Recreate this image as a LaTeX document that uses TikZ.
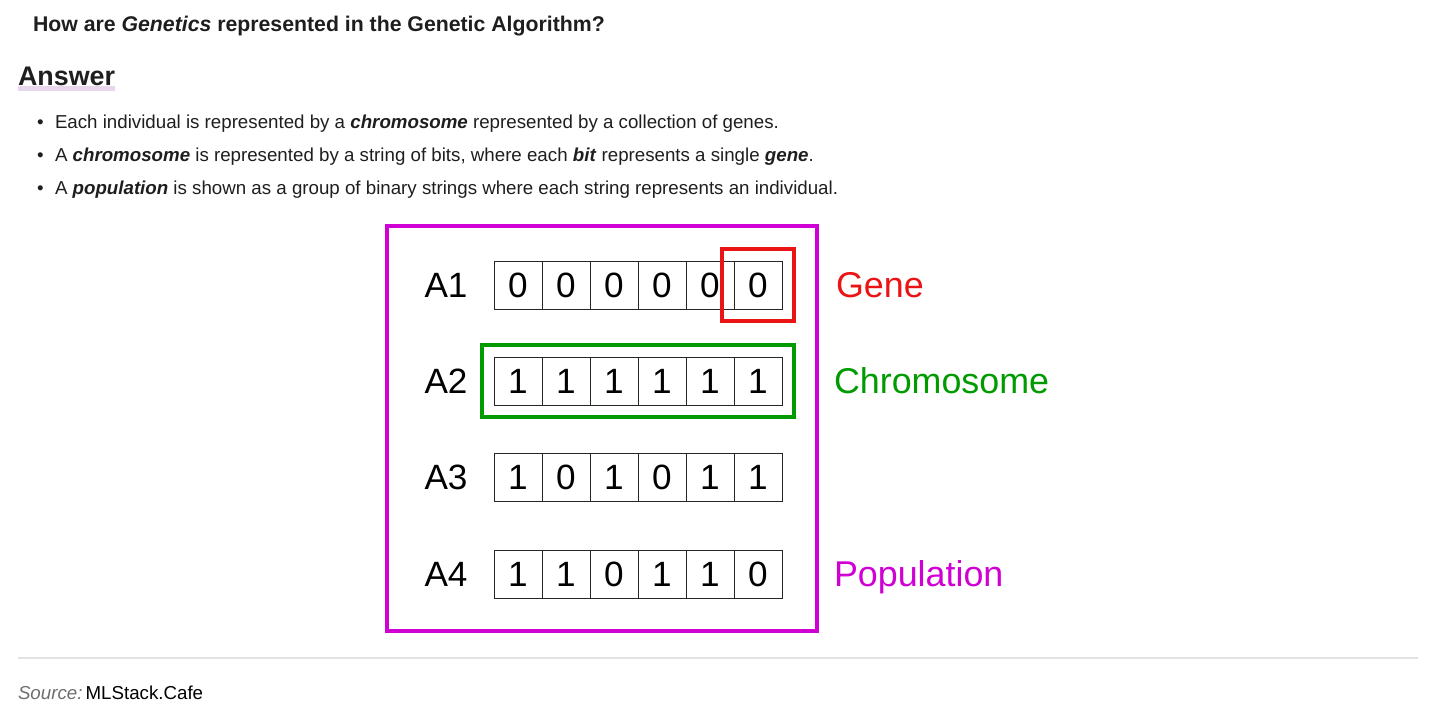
\documentclass[tikz,border=0pt]{standalone}
\usepackage{fontspec}
\setmainfont{Liberation Sans}
\usetikzlibrary{fit}
\definecolor{inkgray}{RGB}{30,30,30}
\definecolor{srcgray}{RGB}{110,110,110}
\definecolor{rulegray}{RGB}{226,226,226}
\definecolor{markpink}{RGB}{232,214,236}
\definecolor{genered}{RGB}{235,20,20}
\definecolor{chromgreen}{RGB}{0,155,0}
\definecolor{popmagenta}{RGB}{208,0,212}
\begin{document}
\begin{tikzpicture}[x={(0.02cm,0cm)},y={(0cm,-0.02cm)},
  every node/.style={inner sep=0pt, outer sep=0pt},
  cell/.style={draw=black!85, line width=0.45pt, minimum size=0.96cm, font=\fontsize{20}{20}\selectfont},
  rowname/.style={font=\fontsize{20}{20}\selectfont},
  tag/.style={anchor=base west, font=\fontsize{20.4}{20}\selectfont},
  txt/.style={anchor=base west, text=inkgray, font=\fontsize{10.65}{12}\selectfont}]
\useasboundingbox (0,0) rectangle (1450,726);
% heading
\node[txt, font=\bfseries\fontsize{12.1}{14}\selectfont] (question) at (33,32) {How are \textit{Genetics} represented in the Genetic Algorithm?};
\fill[markpink] (18,86) rectangle (115,91);
\node[txt, font=\bfseries\fontsize{15.3}{18}\selectfont] (answer) at (18,86) {Answer};
% bullets
\node[txt] (dot1) at (37,128.5) {\textbullet};
\node[txt] (dot2) at (37,161.5) {\textbullet};
\node[txt] (dot3) at (37,194.5) {\textbullet};
\node[txt] (item1) at (55,128.5) {Each individual is represented by a \textbf{\textit{chromosome}} represented by a collection of genes.};
\node[txt] (item2) at (55,161.5) {A \textbf{\textit{chromosome}} is represented by a string of bits, where each \textbf{\textit{bit}} represents a single \textbf{\textit{gene}}.};
\node[txt] (item3) at (55,194.5) {A \textbf{\textit{population}} is shown as a group of binary strings where each string represents an individual.};
% individuals
\node[rowname] (A1) at (446,285) {A1};
\node[rowname] (A2) at (446,381) {A2};
\node[rowname] (A3) at (446,477) {A3};
\node[rowname] (A4) at (446,574) {A4};
\node[cell] (a11) at (518,285) {0};
\node[cell] (a12) at (566,285) {0};
\node[cell] (a13) at (614,285) {0};
\node[cell] (a14) at (662,285) {0};
\node[cell] (a15) at (710,285) {0};
\node[cell] (a16) at (758,285) {0};
\node[cell] (a21) at (518,381) {1};
\node[cell] (a22) at (566,381) {1};
\node[cell] (a23) at (614,381) {1};
\node[cell] (a24) at (662,381) {1};
\node[cell] (a25) at (710,381) {1};
\node[cell] (a26) at (758,381) {1};
\node[cell] (a31) at (518,477) {1};
\node[cell] (a32) at (566,477) {0};
\node[cell] (a33) at (614,477) {1};
\node[cell] (a34) at (662,477) {0};
\node[cell] (a35) at (710,477) {1};
\node[cell] (a36) at (758,477) {1};
\node[cell] (a41) at (518,574) {1};
\node[cell] (a42) at (566,574) {1};
\node[cell] (a43) at (614,574) {0};
\node[cell] (a44) at (662,574) {1};
\node[cell] (a45) at (710,574) {1};
\node[cell] (a46) at (758,574) {0};
% highlight boxes
\node[draw=genered, line width=2.1pt, inner sep=6.8pt, fit=(a16)] (genebox) {};
\node[draw=chromgreen, line width=2.1pt, inner sep=6.8pt, fit=(a21)(a26)] (chrombox) {};
\draw[popmagenta, line width=2.3pt] (387,226) rectangle (817,631);
\node[tag, text=genered] (gene) at (836,297.5) {Gene};
\node[tag, text=chromgreen] (chrom) at (834,393.5) {Chromosome};
\node[tag, text=popmagenta] (pop) at (834,586.5) {Population};
% footer
\draw[rulegray, line width=1.2pt] (18,658) -- (1418,658);
\node[txt, text=srcgray] (source) at (18,699) {\textit{Source:}};
\node[txt, anchor=base west, text=black] (cafe) at (source.base east) {\,MLStack.Cafe};
\end{tikzpicture}
\end{document}
